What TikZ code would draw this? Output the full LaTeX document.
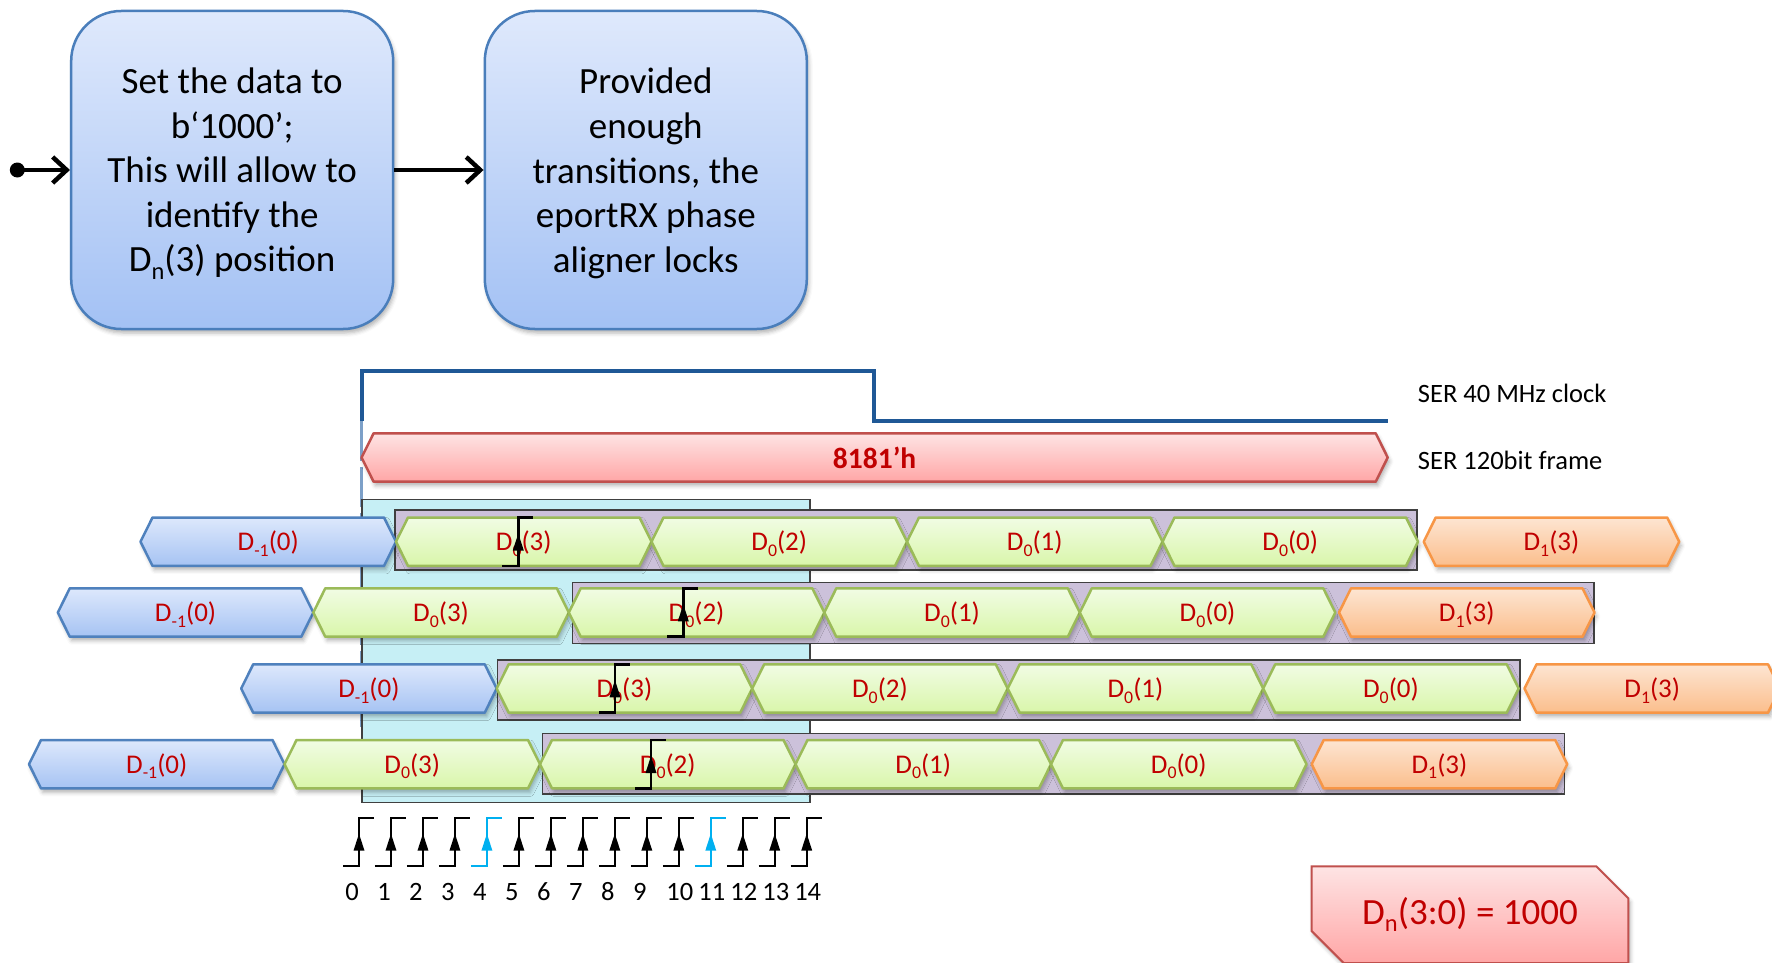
\documentclass[tikz,border=0pt]{standalone}
\usepackage{fontspec}
\setmainfont{Carlito}
\usetikzlibrary{arrows.meta,shapes.misc,shadows.blur}

\definecolor{boxtop}{RGB}{223,233,252}
\definecolor{boxbot}{RGB}{163,193,244}
\definecolor{boxline}{RGB}{74,126,187}
\definecolor{bluetop}{RGB}{221,232,252}
\definecolor{bluebot}{RGB}{166,195,243}
\definecolor{blueline}{RGB}{79,129,189}
\definecolor{greentop}{RGB}{241,252,228}
\definecolor{greenbot}{RGB}{217,246,170}
\definecolor{greenline}{RGB}{155,187,89}
\definecolor{orangetop}{RGB}{253,229,210}
\definecolor{orangebot}{RGB}{251,190,140}
\definecolor{orangeline}{RGB}{247,150,70}
\definecolor{redtop}{RGB}{254,228,228}
\definecolor{redbot}{RGB}{255,166,166}
\definecolor{redline}{RGB}{192,80,77}
\definecolor{lavender}{RGB}{204,193,218}
\definecolor{lightcyan}{RGB}{198,239,245}
\definecolor{rectline}{RGB}{64,64,64}
\definecolor{clkblue}{RGB}{31,88,150}
\definecolor{guideblue}{RGB}{125,160,200}
\definecolor{edgecyan}{RGB}{0,176,240}
\definecolor{txtred}{RGB}{192,0,0}

\tikzset{
  softshadow/.style={blur shadow={shadow xshift=2pt,shadow yshift=-4pt,shadow blur radius=4pt,shadow opacity=30}},
  stepbox/.style={draw=boxline,line width=2.5pt,rounded corners=50pt,top color=boxtop,bottom color=boxbot,
    minimum width=322pt,minimum height=318pt,align=center,inner sep=0pt,
    font=\fontsize{37}{44.6}\selectfont,softshadow},
  flowarrow/.style={line width=4.5pt,-{Straight Barb[length=14pt,width=26pt]}},
  cellbase/.style={line width=2.5pt,line join=round,softshadow},
  bluecell/.style={draw=blueline,top color=bluetop,bottom color=bluebot},
  greencell/.style={draw=greenline,top color=greentop,bottom color=greenbot},
  orangecell/.style={draw=orangeline,top color=orangetop,bottom color=orangebot},
  framecell/.style={draw=redline,top color=redtop,bottom color=redbot},
  celltext/.style={text=txtred,font=\fontsize{27}{32}\selectfont,inner sep=0pt},
  window/.style={draw=rectline,line width=1.5pt},
  clkwave/.style={draw=clkblue,line width=4pt,line join=miter},
  guide/.style={draw=guideblue,line width=2.5pt,dash pattern=on 40pt off 6pt},
  markline/.style={line width=2.4pt},
  sidelabel/.style={font=\fontsize{26.5}{30}\selectfont,inner sep=0pt,anchor=base west},
  numlabel/.style={font=\fontsize{26.5}{30}\selectfont,inner sep=0pt,anchor=base},
  result/.style={chamfered rectangle,chamfered rectangle corners={north east,south west},
    chamfered rectangle xsep=16pt,chamfered rectangle ysep=16pt,
    draw=redline,line width=2pt,top color=redtop,bottom color=redbot,
    minimum width=316.6pt,minimum height=96.7pt,inner sep=0pt,
    text=txtred,font=\fontsize{37}{44}\selectfont,softshadow}
}

% lowered, reduced index as set in the slide font
\newcommand\sub[1]{\raisebox{-0.2em}{\scalebox{0.66}{#1}}}

% one hexagonal data slot: name, left tip x, centre y, colour style, label
\newcommand\datacell[5]{%
  \path[cellbase,#4] (#2,#3) -- ++(12,-24.2) -- ++(231.5,0) -- ++(12,24.2)
    -- ++(-12,24.2) -- ++(-231.5,0) -- cycle;
  \node[celltext] (#1) at ({#2+127.75},{#3+2}) {#5};
}

% rising-edge marker: x, top y, colour
\newcommand\risemark[3]{%
  \draw[markline,#3] ({#1-16},{#2+48.3}) -- (#1,{#2+48.3}) -- (#1,#2) -- ({#1+15},#2);
  \fill[#3] (#1,{#2+16}) -- ({#1+5.5},{#2+33}) -- ({#1-5.5},{#2+33}) -- cycle;
}

\newcommand\Dm{D\sub{-1}}
\newcommand\Dz{D\sub{0}}
\newcommand\Do{D\sub{1}}

\begin{document}
\begin{tikzpicture}[x=1pt,y=-1pt]
\useasboundingbox (0,0) rectangle (1772,963);

% ---- procedure steps ----
\node[stepbox] (set) at (232.2,170) {};
\node[align=center,inner sep=0pt,font=\fontsize{37}{44.6}\selectfont] (settxt) at (232.2,173.5)
  {Set the data to\\b‘1000’;\\This will allow to\\identify the\\D\sub{n}(3) position};
\node[stepbox] (lock) at (645.8,170) {};
\node[align=center,inner sep=0pt,font=\fontsize{37}{44.6}\selectfont] (locktxt) at (645.8,173.5)
  {Provided\\enough\\transitions, the\\eportRX phase\\aligner locks};
\coordinate (start) at (17.3,170);
\fill (start) circle (7.5);
\draw[flowarrow] (start) -- (set.west);
\draw[flowarrow] (set.east) -- (lock.west);

% ---- serializer clock and frame ----
\draw[guide] (361.7,420.7) -- (361.7,727);
\draw[clkwave] (361.6,420.7) -- (361.6,371) -- (874.3,371) -- (874.3,420.7) -- (1387.7,420.7);
\node[sidelabel] (clklab) at (1417.7,402.3) {SER 40 MHz clock};

\path[cellbase,framecell] (361.6,457.5) -- (373.6,433.3) -- (1375.7,433.3) -- (1387.7,457.5)
  -- (1375.7,481.7) -- (373.6,481.7) -- cycle;
\node[text=txtred,font=\fontsize{29.5}{32}\selectfont\bfseries,inner sep=0pt] (frame) at (874.6,457.5) {8181’h};
\node[sidelabel] (framelab) at (1417.7,469.3) {SER 120bit frame};

% ---- sampling window and word windows ----
\filldraw[window,fill=lightcyan] (362,499.5) rectangle (810,802.7);
\filldraw[window,fill=lavender] (395,510) rectangle (1417,570);
\filldraw[window,fill=lavender] (572.3,582.7) rectangle (1594,643.3);
\filldraw[window,fill=lavender] (497.7,660) rectangle (1520,720);
\filldraw[window,fill=lavender] (542.3,733.3) rectangle (1564.3,794);

% ---- data rows ----
% row 1
\datacell{a0}{140.5}{541.7}{bluecell}{\Dm(0)}
\datacell{a1}{396}{541.7}{greencell}{\Dz(3)}
\datacell{a2}{651.5}{541.7}{greencell}{\Dz(2)}
\datacell{a3}{907}{541.7}{greencell}{\Dz(1)}
\datacell{a4}{1162.5}{541.7}{greencell}{\Dz(0)}
\datacell{a5}{1423.7}{541.7}{orangecell}{\Do(3)}
% row 2
\datacell{b0}{57.8}{612.5}{bluecell}{\Dm(0)}
\datacell{b1}{313.3}{612.5}{greencell}{\Dz(3)}
\datacell{b2}{568.8}{612.5}{greencell}{\Dz(2)}
\datacell{b3}{824.3}{612.5}{greencell}{\Dz(1)}
\datacell{b4}{1079.8}{612.5}{greencell}{\Dz(0)}
\datacell{b5}{1339}{612.5}{orangecell}{\Do(3)}
% row 3
\datacell{c0}{241.2}{688.5}{bluecell}{\Dm(0)}
\datacell{c1}{496.7}{688.5}{greencell}{\Dz(3)}
\datacell{c2}{752.2}{688.5}{greencell}{\Dz(2)}
\datacell{c3}{1007.7}{688.5}{greencell}{\Dz(1)}
\datacell{c4}{1263.2}{688.5}{greencell}{\Dz(0)}
\datacell{c5}{1524.5}{688.5}{orangecell}{\Do(3)}
% row 4
\datacell{d0}{29}{764.2}{bluecell}{\Dm(0)}
\datacell{d1}{284.5}{764.2}{greencell}{\Dz(3)}
\datacell{d2}{540}{764.2}{greencell}{\Dz(2)}
\datacell{d3}{795.5}{764.2}{greencell}{\Dz(1)}
\datacell{d4}{1051}{764.2}{greencell}{\Dz(0)}
\datacell{d5}{1311.7}{764.2}{orangecell}{\Do(3)}

% sampling points found in each row
\risemark{518.3}{517.5}{black}
\risemark{683.3}{588.3}{black}
\risemark{615}{664.3}{black}
\risemark{651}{740}{black}

% ---- fast sampling clock edges ----
\foreach \k in {0,...,14}{
  \pgfmathsetmacro\ex{359+31.98*\k}
  \ifnum\k=4 \def\mc{edgecyan}\else\ifnum\k=11 \def\mc{edgecyan}\else\def\mc{black}\fi\fi
  \risemark{\ex}{817.7}{\mc}
  \ifnum\k<10 \pgfmathsetmacro\lx{\ex-7}\else\pgfmathsetmacro\lx{\ex+1}\fi
  \node[numlabel] (n\k) at (\lx,900.7) {\k};
}

% ---- expected word ----
\node[result] (word) at (1470,914.7) {D\sub{n}(3:0) = 1000};
\end{tikzpicture}
\end{document}
